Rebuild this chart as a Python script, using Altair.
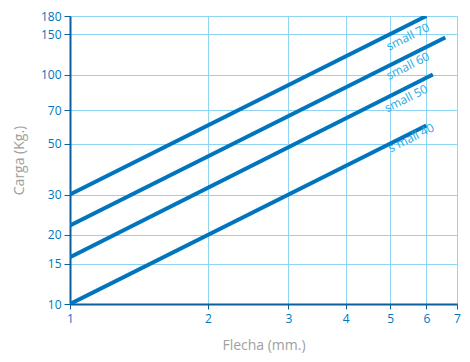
import altair as alt
import pandas as pd

series = ["small 70", "small 60", "small 50", "s mall 40"]
x_start = [1, 1, 1, 1]
y_start = [30, 22, 16, 10]
x_end = [6.0, 6.6, 6.2, 6.0]
y_end = [180, 145, 100, 60]

label_x = [5.47, 5.47, 5.42, 5.56]
label_y = [146, 109, 78.6, 53]

x_ticks = [1, 2, 3, 4, 5, 6, 7]
y_ticks = [10, 15, 20, 30, 50, 70, 100, 150, 180]

rows = []
for s, xs, ys, xe, ye in zip(series, x_start, y_start, x_end, y_end):
    rows.append({"serie": s, "x": xs, "y": ys, "o": 0})
    rows.append({"serie": s, "x": xe, "y": ye, "o": 1})
lines_df = pd.DataFrame(rows)
labels_df = pd.DataFrame({"serie": series, "x": label_x, "y": label_y})

DARK = "#0a5f9e"
LINE = "#0075be"
GRID = "#8fd4f5"
LBL = "#2aa8e2"
FONT = "Open Sans"

xs = alt.Scale(type="log", domain=[1, 7], nice=False)
ys = alt.Scale(type="log", domain=[10, 180], nice=False)

xaxis = alt.Axis(values=x_ticks, format="d", title="Flecha (mm.)", grid=True,
                 gridColor=GRID, gridWidth=1, domainColor=DARK, domainWidth=2,
                 tickColor=DARK, tickSize=5, labelColor=LINE, labelFontSize=12,
                 labelFont=FONT, labelPadding=4, titleColor="#a0a0a0",
                 titleFontSize=14, titleFont=FONT, titleFontWeight="normal",
                 titlePadding=14, labelFlush=False)
yaxis = alt.Axis(values=y_ticks, format="d", title="Carga (Kg.)", grid=True,
                 gridColor=GRID, gridWidth=1, domainColor=DARK, domainWidth=2,
                 tickColor=DARK, tickSize=6, labelColor=LINE, labelFontSize=12,
                 labelFont=FONT, labelPadding=3, titleColor="#a0a0a0",
                 titleFontSize=14, titleFont=FONT, titleFontWeight="normal",
                 titlePadding=14)

lines = alt.Chart(lines_df).mark_line(color=LINE, strokeWidth=4, strokeCap="butt", clip=True).encode(
    x=alt.X("x:Q", scale=xs, axis=xaxis),
    y=alt.Y("y:Q", scale=ys, axis=yaxis),
    detail="serie:N",
    order="o:Q",
)

labels = alt.Chart(labels_df).mark_text(color=LBL, fontSize=12, font=FONT, angle=333.5,
                                        align="center", baseline="middle").encode(
    x=alt.X("x:Q", scale=xs),
    y=alt.Y("y:Q", scale=ys),
    text="serie:N",
)

chart = (lines + labels).properties(
    width=387, height=288,
    autosize=alt.AutoSizeParams(type="none"),
    padding={"left": 62, "top": 8, "right": 5, "bottom": 50},
).configure_view(stroke=DARK, strokeWidth=2).configure(background="white")

chart.save("out.html", embed_options={"renderer": "svg", "actions": False})
